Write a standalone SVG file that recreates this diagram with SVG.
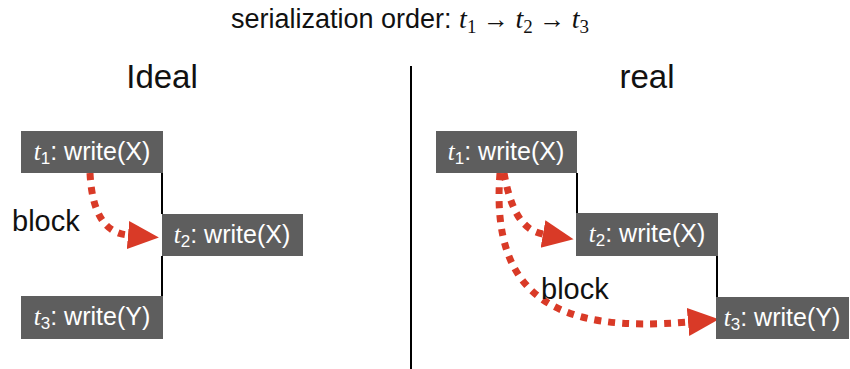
<svg xmlns="http://www.w3.org/2000/svg" width="850" height="369" viewBox="0 0 850 369">
  <style>
    .sans { font-family: "Liberation Sans", Arial, sans-serif; fill: #111; }
    .math { font-family: "Liberation Serif", "Times New Roman", serif; }
    .var { font-style: italic; }
    .box { fill: #5e5e5e; }
    .label { font-family: "Liberation Sans", Arial, sans-serif; font-size: 25px; fill: #ffffff; }
    .label .var { font-family: "Liberation Serif", "Times New Roman", serif; font-style: italic; }
    .sub { font-size: 17px; }
    .tsub { font-size: 19px; }
    .tie { stroke: #000; stroke-width: 2; fill: none; }
    .wait { stroke: #d93a27; stroke-width: 7; fill: none; stroke-dasharray: 7 7; marker-end: url(#head); }
    .heading { font-family: "Liberation Sans", Arial, sans-serif; font-size: 33px; fill: #111; }
  </style>
  <defs>
    <marker id="head" markerUnits="userSpaceOnUse" markerWidth="32" markerHeight="30" refX="0" refY="15" orient="auto">
      <path d="M0,1 L31,15 L0,29 Z" fill="#d93a27"/>
    </marker>
  </defs>

  <rect width="850" height="369" fill="#ffffff"/>

  <!-- title -->
  <text x="231" y="28" class="sans" font-size="27">serialization order: <tspan class="math var" font-size="28">t</tspan><tspan class="math tsub" dy="5">1</tspan><tspan class="math" dy="-5" font-size="26"> → </tspan><tspan class="math var" font-size="28">t</tspan><tspan class="math tsub" dy="5">2</tspan><tspan class="math" dy="-5" font-size="26"> → </tspan><tspan class="math var" font-size="28">t</tspan><tspan class="math tsub" dy="5">3</tspan></text>

  <!-- panel headings and divider -->
  <text x="162" y="88" class="heading" text-anchor="middle">Ideal</text>
  <text x="647" y="88" class="heading" text-anchor="middle">real</text>
  <line x1="411" y1="66" x2="411" y2="369" stroke="#000" stroke-width="2"/>

  <!-- connectors -->
  <g id="connectors">
    <line class="tie" x1="162" y1="173" x2="162" y2="214"/>
    <line class="tie" x1="162" y1="256" x2="162" y2="296"/>
    <line class="tie" x1="577" y1="173" x2="577" y2="213"/>
    <line class="tie" x1="717" y1="256" x2="717" y2="297"/>
    <path class="wait" d="M90,173 C92,212 104,233 128,235"/>
    <path class="wait" d="M504,173 C510,206 520,230 543,234"/>
    <path class="wait" d="M500,173 C490,300 560,333 688,322"/>
  </g>
  <text x="12" y="231" class="sans" font-size="29">block</text>
  <text x="541" y="299" class="sans" font-size="29">block</text>

  <!-- ideal schedule -->
  <g id="ideal-t1">
    <rect class="box" x="21" y="131" width="142" height="42"/>
    <text class="label" x="92" y="160" text-anchor="middle"><tspan class="var">t</tspan><tspan class="sub" dy="4">1</tspan><tspan dy="-4">: write(X)</tspan></text>
  </g>
  <g id="ideal-t2">
    <rect class="box" x="162" y="214" width="141" height="42"/>
    <text class="label" x="232" y="243" text-anchor="middle"><tspan class="var">t</tspan><tspan class="sub" dy="4">2</tspan><tspan dy="-4">: write(X)</tspan></text>
  </g>
  <g id="ideal-t3">
    <rect class="box" x="21" y="296" width="142" height="43"/>
    <text class="label" x="92" y="325" text-anchor="middle"><tspan class="var">t</tspan><tspan class="sub" dy="4">3</tspan><tspan dy="-4">: write(Y)</tspan></text>
  </g>

  <!-- real schedule -->
  <g id="real-t1">
    <rect class="box" x="436" y="131" width="141" height="42"/>
    <text class="label" x="506" y="160" text-anchor="middle"><tspan class="var">t</tspan><tspan class="sub" dy="4">1</tspan><tspan dy="-4">: write(X)</tspan></text>
  </g>
  <g id="real-t2">
    <rect class="box" x="576" y="213" width="142" height="43"/>
    <text class="label" x="647" y="242" text-anchor="middle"><tspan class="var">t</tspan><tspan class="sub" dy="4">2</tspan><tspan dy="-4">: write(X)</tspan></text>
  </g>
  <g id="real-t3">
    <rect class="box" x="716" y="297" width="133" height="42"/>
    <text class="label" x="782" y="326" text-anchor="middle"><tspan class="var">t</tspan><tspan class="sub" dy="4">3</tspan><tspan dy="-4">: write(Y)</tspan></text>
  </g>
</svg>
